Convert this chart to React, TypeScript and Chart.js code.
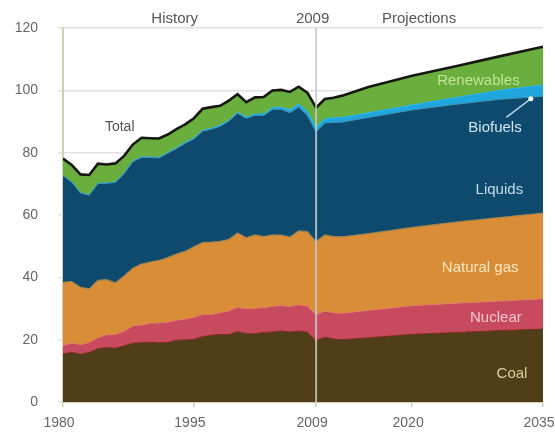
import React, { useEffect, useRef } from "react";
import { Chart, registerables } from "chart.js";

Chart.register(...registerables);

const years = [
  1980, 1981, 1982, 1983, 1984, 1985, 1986, 1987, 1988, 1989,
  1990, 1991, 1992, 1993, 1994, 1995, 1996, 1997, 1998, 1999,
  2000, 2001, 2002, 2003, 2004, 2005, 2006, 2007, 2008, 2009,
  2010, 2011, 2012, 2015, 2020, 2025, 2030, 2035,
];

const coal = [
  15.42, 15.91, 15.32, 15.89, 17.07, 17.48, 17.26, 18.01, 18.85, 19.07,
  19.17, 18.99, 19.12, 19.84, 19.91, 20.09, 21.0, 21.45, 21.66, 21.62,
  22.58, 21.91, 21.9, 22.32, 22.47, 22.8, 22.45, 22.75, 22.39, 19.69,
  20.8, 20.2, 20.0, 20.6, 21.7, 22.3, 22.9, 23.4,
];

const nuclear = [
  2.74, 3.01, 3.13, 3.2, 3.55, 4.08, 4.38, 4.75, 5.59, 5.6,
  6.1, 6.42, 6.48, 6.41, 6.69, 7.08, 7.09, 6.6, 7.07, 7.61,
  7.86, 8.03, 8.15, 7.96, 8.22, 8.16, 8.21, 8.46, 8.43, 8.35,
  8.4, 8.4, 8.5, 8.8, 9.2, 9.4, 9.5, 9.7,
];

const naturalGas = [
  20.24, 19.74, 18.36, 17.2, 18.39, 17.7, 16.59, 17.64, 18.45, 19.6,
  19.6, 20.03, 20.71, 21.23, 21.73, 22.67, 23.09, 23.22, 22.83, 22.91,
  23.82, 22.77, 23.56, 22.83, 22.91, 22.56, 22.22, 23.66, 23.84, 23.37,
  24.4, 24.5, 24.5, 24.6, 25.1, 26.0, 26.8, 27.5,
];

const liquids = [
  34.2, 31.93, 30.23, 30.05, 31.05, 30.92, 32.2, 32.87, 34.22, 34.21,
  33.55, 32.85, 33.53, 33.84, 34.67, 34.55, 35.76, 36.27, 36.93, 37.96,
  38.4, 38.33, 38.4, 38.81, 40.29, 40.39, 39.96, 39.77, 37.28, 35.27,
  35.9, 36.6, 36.8, 37.3, 37.7, 37.8, 37.9, 37.5,
];

const biofuels = [
  0.05, 0.06, 0.08, 0.1, 0.12, 0.14, 0.16, 0.17, 0.17, 0.18,
  0.2, 0.21, 0.22, 0.25, 0.28, 0.3, 0.24, 0.28, 0.3, 0.31,
  0.33, 0.35, 0.42, 0.5, 0.6, 0.7, 0.85, 1.0, 1.3, 1.4,
  1.4, 1.5, 1.5, 1.5, 1.6, 2.2, 2.9, 3.6,
];

const renewables = [
  5.44, 5.41, 5.91, 6.39, 6.31, 5.89, 5.97, 5.52, 5.32, 6.11,
  6.01, 6.03, 5.77, 6.01, 5.79, 6.37, 6.9, 6.8, 6.26, 6.29,
  5.77, 4.81, 5.31, 5.44, 5.47, 5.53, 5.79, 5.52, 6.02, 6.34,
  6.3, 6.4, 7.0, 8.3, 9.4, 10.0, 10.9, 12.3,
];

const xTicks = [1980, 1995, 2009, 2020, 2035];
const yTicks = [0, 20, 40, 60, 80, 100, 120];
const dividerYear = 2009;

const seriesNames = ["Coal", "Nuclear", "Natural gas", "Liquids", "Biofuels", "Renewables"];
const seriesValues = [coal, nuclear, naturalGas, liquids, biofuels, renewables];
const seriesFill = ["#4f3e18", "#c84a5e", "#d98d36", "#0e4a6e", "#1fa6de", "#6aae3d"];
const seriesLine = ["#7a2a1c", "#e07a62", "#9c8050", "#3a8fb0", "#28b4e8", "#16180e"];
const seriesLineWidth = [1, 1, 1.2, 1, 1, 2.6];

// text annotations, placed in data coordinates (year, quadrillion Btu)
const innerLabels = [
  { text: "Total", x: 1986.5, y: 88.2, color: "#555555" },
  { text: "Renewables", x: 2027.6, y: 103.0, color: "#c4e29c" },
  { text: "Biofuels", x: 2029.5, y: 87.9, color: "#d2e6f0" },
  { text: "Liquids", x: 2030.0, y: 68.0, color: "#c4dbe8" },
  { text: "Natural gas", x: 2027.8, y: 43.0, color: "#fde6c2" },
  { text: "Nuclear", x: 2029.6, y: 26.9, color: "#f6c4cf" },
  { text: "Coal", x: 2031.45, y: 9.0, color: "#dccf9e" },
];
const topLabels = [
  { text: "History", x: 1992.8 },
  { text: "2009", x: 2008.6 },
  { text: "Projections", x: 2020.8 },
];
const leader = { x1: 2030.8, y1: 91.3, x2: 2033.6, y2: 97.3 };

const FONT = "'Liberation Sans', Arial, sans-serif";

const overlayPlugin = {
  id: "overlay",
  afterDatasetsDraw(chart: any) {
    const { ctx, chartArea, scales } = chart;
    const x = scales.x;
    const y = scales.y;
    ctx.save();
    // 2009 divider
    const dx = x.getPixelForValue(dividerYear);
    ctx.strokeStyle = "rgba(200,200,200,0.85)";
    ctx.lineWidth = 2;
    ctx.beginPath();
    ctx.moveTo(dx, chartArea.top);
    ctx.lineTo(dx, chartArea.bottom);
    ctx.stroke();

    // top labels
    ctx.font = `15px ${FONT}`;
    ctx.fillStyle = "#555555";
    ctx.textAlign = "center";
    ctx.textBaseline = "middle";
    topLabels.forEach((l) => {
      ctx.fillText(l.text, x.getPixelForValue(l.x), chartArea.top - 9);
    });

    // biofuels leader line
    ctx.strokeStyle = "#b8d8ea";
    ctx.lineWidth = 1.5;
    ctx.beginPath();
    ctx.moveTo(x.getPixelForValue(leader.x1), y.getPixelForValue(leader.y1));
    ctx.lineTo(x.getPixelForValue(leader.x2), y.getPixelForValue(leader.y2));
    ctx.stroke();
    ctx.fillStyle = "#ffffff";
    ctx.beginPath();
    ctx.arc(x.getPixelForValue(leader.x2), y.getPixelForValue(leader.y2), 2.5, 0, Math.PI * 2);
    ctx.fill();

    // inner labels
    innerLabels.forEach((l) => {
      ctx.font = l.text === "Total" ? `14px ${FONT}` : `15px ${FONT}`;
      ctx.fillStyle = l.color;
      ctx.fillText(l.text, x.getPixelForValue(l.x), y.getPixelForValue(l.y));
    });
    ctx.restore();
  },
};

export default function App() {
  const canvasRef = useRef<HTMLCanvasElement | null>(null);

  useEffect(() => {
    document.body.style.margin = "0";
    const canvas = canvasRef.current;
    if (!canvas) return;

    const datasets = seriesNames.map((name, i) => ({
      label: name,
      data: seriesValues[i].map((v, j) => ({ x: years[j], y: v })),
      backgroundColor: seriesFill[i],
      borderColor: seriesLine[i],
      borderWidth: seriesLineWidth[i],
      fill: i === 0 ? "origin" : "-1",
      pointRadius: 0,
      pointHoverRadius: 0,
      tension: 0,
    }));

    const chart = new Chart(canvas, {
      type: "line",
      data: { datasets },
      plugins: [overlayPlugin],
      options: {
        animation: false,
        responsive: true,
        maintainAspectRatio: false,
        events: [],
        layout: { padding: { top: 28, right: 12, left: 0, bottom: 0 } },
        plugins: {
          legend: { display: false },
          tooltip: { enabled: false },
        },
        scales: {
          x: {
            type: "linear",
            min: 1980,
            max: 2035,
            afterBuildTicks: (scale: any) => {
              scale.ticks = xTicks.map((v) => ({ value: v }));
            },
            afterFit: (scale: any) => {
              scale.height = 33;
              scale.paddingLeft = 0;
              scale.paddingRight = 0;
            },
            ticks: {
              callback: (v: any) => String(v),
              color: "#666666",
              font: { family: FONT, size: 14 },
              padding: 8,
              labelOffset: -4,
              maxRotation: 0,
              autoSkip: false,
            },
            grid: {
              drawOnChartArea: false,
              drawTicks: true,
              tickLength: 5,
              color: "#d6cdb8",
              lineWidth: 1.5,
            },
            border: { display: true, color: "#d6cdb8", width: 2 },
          },
          y: {
            type: "linear",
            stacked: true,
            min: 0,
            max: 120,
            afterBuildTicks: (scale: any) => {
              scale.ticks = yTicks.map((v) => ({ value: v }));
            },
            afterFit: (scale: any) => {
              scale.width = 63;
              scale.paddingTop = 0;
              scale.paddingBottom = 0;
            },
            ticks: {
              callback: (v: any) => String(v),
              color: "#666666",
              font: { family: FONT, size: 14 },
              padding: 20,
            },
            grid: {
              color: "#e2e2e2",
              lineWidth: 1.5,
              drawTicks: true,
              tickLength: 5,
            },
            border: { display: true, color: "#d6cdb8", width: 2 },
          },
        },
      } as any,
    });

    return () => {
      chart.destroy();
    };
  }, []);

  return (
    <div style={{ width: 555, height: 435, position: "relative" }}>
      <canvas ref={canvasRef} />
    </div>
  );
}
